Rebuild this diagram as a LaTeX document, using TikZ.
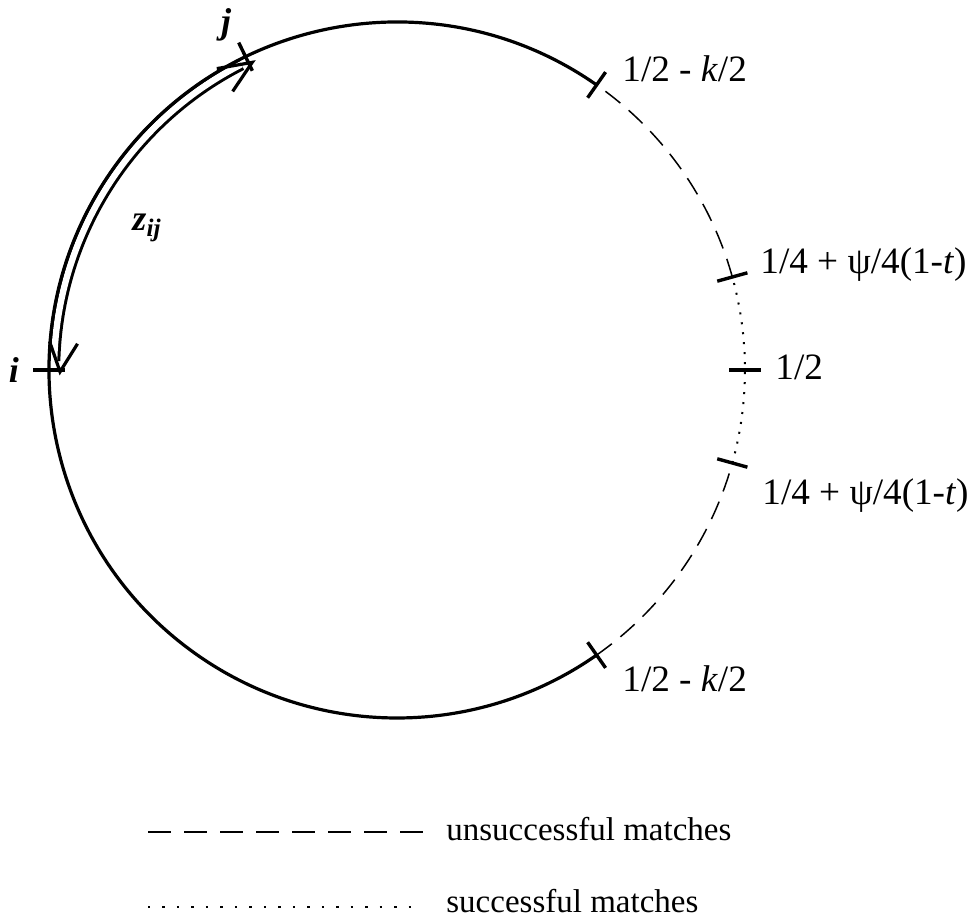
\documentclass[tikz,border=0pt]{standalone}
\usepackage{fontspec}
\setmainfont{Liberation Serif}
\usetikzlibrary{arrows.meta,calc}

\begin{document}
\begin{tikzpicture}[
  x=0.5pt, y=0.5pt,
  rim/.style    = {line width=1.6pt},
  notch/.style  = {line width=1.7pt},
  unsucc/.style = {line width=0.75pt, dash pattern=on 9.5pt off 5.5pt},
  succ/.style   = {line width=1pt, dash pattern=on 1pt off 4pt},
  zarrow/.style = {line width=1.5pt, double=white, double distance=3.2pt},
  barb/.style   = {line width=1.6pt, line join=miter},
  lbl/.style    = {font=\fontsize{18.6}{22}\selectfont, inner sep=0pt, anchor=base west},
  key/.style    = {font=\fontsize{16.5}{19}\selectfont, inner sep=0pt, anchor=base west},
  pt/.style     = {font=\fontsize{18}{20}\selectfont\bfseries\itshape, inner sep=0pt},
]
\useasboundingbox (0,0) rectangle (976,-924);
\coordinate (O) at (397,-370);
\def\R{348}

% points on the rim, with their marks
\foreach \a/\n in {55/hiK, 15.5/hiP, 0/half, -15.5/loP, -55/loK, 180/pi, 115.8/pj} {
  \coordinate (\n) at ($(O)+(\a:\R)$);
  \draw[notch] ($(O)!0.955!(\n)$) -- ($(O)!1.045!(\n)$);
}

% z_ij arrow
\coordinate (zs) at ($(O)+(117:343)$);
\coordinate (zj) at ($(O)+(115.2:340)$);
\coordinate (zi) at ($(O)+(180.3:337)$);
\draw[zarrow] (zs) arc[start angle=117, end angle=178.5, radius=343];
\draw[barb] ($(zj)+(190:36)$) -- (zj) -- ($(zj)+(236:35)$);
\draw[barb] ($(zi)+(109:32)$) -- (zi) -- ($(zi)+(58:33)$);

% the circle
\draw[rim] (hiK) arc[start angle=55, end angle=305, radius=\R];
\draw[unsucc] (hiP) arc[start angle=15.5, end angle=55, radius=\R];
\draw[unsucc] (loK) arc[start angle=-55, end angle=-15.5, radius=\R];
\draw[succ] (loP) arc[start angle=-15.5, end angle=15.5, radius=\R];

\node[pt] (lj) at (226,-25) {j};
\node[pt] (li) at (14,-370) {i};
\node[pt] (lz) at (147,-228) {z\textsubscript{ij}};

\node[lbl] (thiK)  at (622,-82)  {1/2 - \textit{k}/2};
\node[lbl] (thiP)  at (760,-274) {1/4 + ψ/4(1-\textit{t})};
\node[lbl] (thalf) at (775,-380) {1/2};
\node[lbl] (tloP)  at (762,-505) {1/4 + ψ/4(1-\textit{t})};
\node[lbl] (tloK)  at (622,-692) {1/2 - \textit{k}/2};

% key
\coordinate (ua) at (148,-832);
\coordinate (ub) at (423,-832);
\coordinate (sa) at (148,-907);
\coordinate (sb) at (423,-907);
\draw[line width=1.1pt, dash pattern=on 11.5pt off 6.5pt] (ua) -- (ub);
\draw[line width=1.2pt, dash pattern=on 1.2pt off 6.04pt] (sa) -- (sb);
\node[key] (tu) at (446,-841) {unsuccessful matches};
\node[key] (ts) at (446,-913) {successful matches};
\end{tikzpicture}
\end{document}
